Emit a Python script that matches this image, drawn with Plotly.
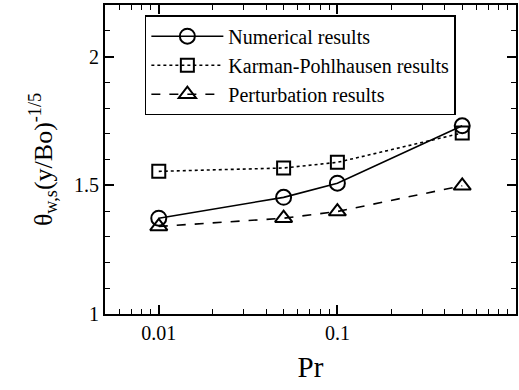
import numpy as np
import plotly.graph_objects as go

# Prandtl numbers and non-dimensional wall temperature from the three methods
pr = [0.01, 0.05, 0.1, 0.5]
numerical = [1.372, 1.453, 1.508, 1.731]
karman_pohlhausen = [1.554, 1.567, 1.589, 1.703]
perturbation = [1.340, 1.372, 1.398, 1.498]

x_ticks = [0.01, 0.1, 1]
x_tick_labels = ["0.01", "0.1", "1"]
y_ticks = [1, 1.5, 2]
y_tick_labels = ["1", "1.5", "2"]

FONT = "Times New Roman, Liberation Serif, serif"

fig = go.Figure()

series = [
    ("Numerical results", numerical, "solid", "circle-open", 15),
    ("Karman-Pohlhausen results", karman_pohlhausen, "dot", "square-open", 13),
    ("Perturbation results", perturbation, "dash", "triangle-up-open", 15),
]
for name, vals, dash, symbol, size in series:
    fig.add_trace(go.Scatter(
        x=pr, y=vals, name=name, mode="lines+markers",
        line=dict(color="black", width=1.6, dash=dash),
        marker=dict(symbol=symbol, size=size, color="black",
                    line=dict(color="black", width=2)),
    ))

axis_common = dict(
    showline=True, linecolor="black", linewidth=2, mirror="ticks",
    ticks="inside", tickcolor="black", tickwidth=1.5, ticklen=9,
    showgrid=False, zeroline=False,
    tickfont=dict(family=FONT, size=20, color="black"),
)

fig.update_xaxes(
    type="log", range=[np.log10(0.005), 0],
    tickmode="array", tickvals=x_ticks, ticktext=x_tick_labels,
    minor=dict(ticks="inside", ticklen=5, tickwidth=1.2, tickcolor="black",
               showgrid=False, dtick="D1"),
    title=dict(text="Pr", font=dict(family=FONT, size=29, color="black"), standoff=14),
    **axis_common,
)
fig.update_yaxes(
    range=[1, 2.2],
    tickmode="array", tickvals=y_ticks, ticktext=y_tick_labels,
    minor=dict(ticks="inside", ticklen=5, tickwidth=1.2, tickcolor="black",
               showgrid=False, dtick=0.1),
    title=dict(text="θ<sub>w,s</sub>(y/Bo)<sup>-1/5</sup>",
               font=dict(family=FONT, size=26, color="black"), standoff=14),
    **axis_common,
)

fig.update_layout(
    width=519, height=390,
    font=dict(family=FONT, size=20, color="black"),
    margin=dict(l=105, r=1, t=5, b=76),
    paper_bgcolor="white", plot_bgcolor="white",
    showlegend=True,
    legend=dict(
        x=0.097, y=0.967, xanchor="left", yanchor="top",
        bgcolor="white", bordercolor="black", borderwidth=1.5,
        font=dict(family=FONT, size=20, color="black"),
        itemwidth=72, tracegroupgap=0,
    ),
)

fig.write_html("out.html")
